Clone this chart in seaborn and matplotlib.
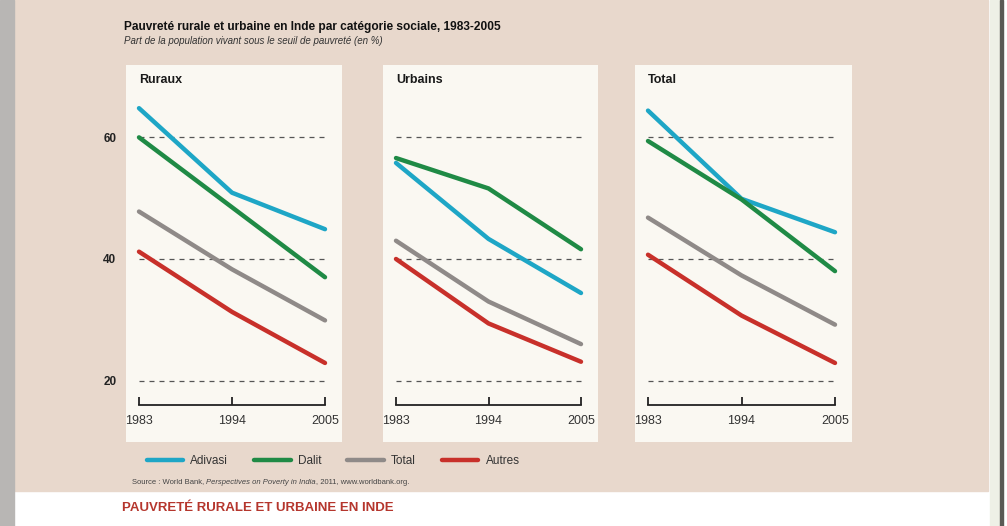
import pandas as pd
import seaborn as sns
import matplotlib.pyplot as plt
from matplotlib.patches import Rectangle
from matplotlib.lines import Line2D

# Données (en %)
annees = [1983, 1994, 2005]
groupes = ["Adivasi", "Dalit", "Total", "Autres"]
panneaux = ["Ruraux", "Urbains", "Total"]

ruraux_adivasi = [64.8, 50.9, 44.9]
ruraux_dalit = [60.0, 48.5, 37.0]
ruraux_total = [47.8, 38.3, 29.9]
ruraux_autres = [41.2, 31.3, 22.9]

urbains_adivasi = [55.8, 43.3, 34.4]
urbains_dalit = [56.6, 51.6, 41.6]
urbains_total = [43.0, 33.0, 26.0]
urbains_autres = [40.0, 29.4, 23.1]

total_adivasi = [64.4, 49.9, 44.4]
total_dalit = [59.4, 49.8, 38.0]
total_total = [46.8, 37.3, 29.2]
total_autres = [40.7, 30.7, 22.9]

valeurs = {
    "Ruraux": [ruraux_adivasi, ruraux_dalit, ruraux_total, ruraux_autres],
    "Urbains": [urbains_adivasi, urbains_dalit, urbains_total, urbains_autres],
    "Total": [total_adivasi, total_dalit, total_total, total_autres],
}

lignes = []
for p in panneaux:
    for g, serie in zip(groupes, valeurs[p]):
        for a, v in zip(annees, serie):
            lignes.append({"panneau": p, "groupe": g, "annee": a, "valeur": v})
df = pd.DataFrame(lignes)

couleurs = {"Adivasi": "#1ea6c6", "Dalit": "#1f8a45", "Total": "#8f8a88", "Autres": "#c8302a"}

sns.set_style("white")
plt.rcParams["font.family"] = ["Liberation Sans", "DejaVu Sans"]

W, H = 1007, 526
fig = plt.figure(figsize=(W / 100, H / 100), dpi=100, facecolor="white")


def fx(px):
    return px / W


def fy(py):
    return 1 - py / H


# fond de page (sous les axes)
fig.patches.append(Rectangle((fx(14), fy(491)), fx(988 - 14), 491 / H,
                             transform=fig.transFigure, color="#e8d8cc", zorder=-10))
fig.patches.append(Rectangle((0, 0), fx(14), 1, transform=fig.transFigure,
                             color="#b8b6b4", zorder=-10))
fig.patches.append(Rectangle((fx(990), 0), fx(10), 1, transform=fig.transFigure,
                             color="#eef0e6", zorder=-10))
fig.patches.append(Rectangle((fx(1000), 0), fx(3), 1, transform=fig.transFigure,
                             color="#5a5a55", zorder=-10))

cadres = {"Ruraux": (126, 342), "Urbains": (383, 598), "Total": (635, 852)}
haut, bas = 65, 442

for i, p in enumerate(panneaux):
    g0, d0 = cadres[p]
    ax = fig.add_axes([fx(g0), fy(bas), fx(d0 - g0), (bas - haut) / H])
    ax.set_facecolor("#faf8f2")
    # 1983 à 13 px du bord gauche, 2005 à 17 px du bord droit
    ppa = (d0 - g0 - 30) / 22.0
    ax.set_xlim(1983 - 13 / ppa, 2005 + 17 / ppa)
    ax.set_ylim(9.9, 71.9)

    ax.hlines([20, 40, 60], 1983, 2005, colors="#555555", linestyles=(0, (4, 4)),
              linewidth=0.9, zorder=1)

    sns.lineplot(data=df[df["panneau"] == p], x="annee", y="valeur", hue="groupe",
                 palette=couleurs, hue_order=groupes, linewidth=3.2, legend=False,
                 ax=ax, zorder=3)
    for ln in ax.lines:
        ln.set_solid_capstyle("round")

    for s in ["top", "right", "left"]:
        ax.spines[s].set_visible(False)
    ax.spines["bottom"].set_position(("data", 16.0))
    ax.spines["bottom"].set_bounds(1983, 2005)
    ax.spines["bottom"].set_linewidth(1.3)
    ax.spines["bottom"].set_color("#222222")
    ax.set_xticks(annees)
    ax.set_xticklabels([str(a) for a in annees])
    ax.tick_params(axis="x", bottom=True, direction="in", length=6, width=1.3,
                   color="#222222", labelsize=9, labelcolor="#333333", pad=7)
    ax.set_xlabel("")
    ax.set_ylabel("")
    if i == 0:
        ax.set_yticks([20, 40, 60])
        ax.set_yticklabels(["20", "40", "60"], fontweight="bold")
        ax.tick_params(axis="y", left=False, length=0, labelsize=8.5, pad=7,
                       labelcolor="#222222")
    else:
        ax.set_yticks([])
    ax.text(13 / (d0 - g0), 1 - 15 / (bas - haut), p, transform=ax.transAxes,
            fontsize=9, fontweight="bold", color="#1a1a1a", va="center", ha="left")

# titres
fig.text(fx(124), fy(27), "Pauvreté rurale et urbaine en Inde par catégorie sociale, 1983-2005",
         fontsize=8.6, fontweight="bold", color="#111111", va="center")
fig.text(fx(124), fy(41), "Part de la population vivant sous le seuil de pauvreté (en %)",
         fontsize=7, style="italic", color="#333333", va="center")

# légende
poignees = [Line2D([], [], color=couleurs[g], linewidth=3.2, solid_capstyle="round")
            for g in groupes]
fig.legend(poignees, groupes, loc="center left", bbox_to_anchor=(fx(136), fy(461)),
           ncol=4, frameon=False, fontsize=8.5, handlelength=3.1, handletextpad=0.6,
           columnspacing=2.2, labelcolor="#333333")

# source, avec le titre de l'ouvrage en italique
morceaux = [("Source : World Bank, ", "normal"), ("Perspectives on Poverty in India", "italic"),
            (", 2011, www.worldbank.org.", "normal")]
fig.canvas.draw()
rendu = fig.canvas.get_renderer()
x = fx(132)
for txt, st in morceaux:
    t = fig.text(x, fy(482), txt, fontsize=5.5, style=st, color="#444444", va="center")
    x += t.get_window_extent(rendu).width / W

fig.text(fx(122), fy(508), "PAUVRETÉ RURALE ET URBAINE EN INDE", fontsize=9.5,
         fontweight="bold", color="#b5362d", va="center")

fig.savefig("out.png", dpi=100, facecolor=fig.get_facecolor())
